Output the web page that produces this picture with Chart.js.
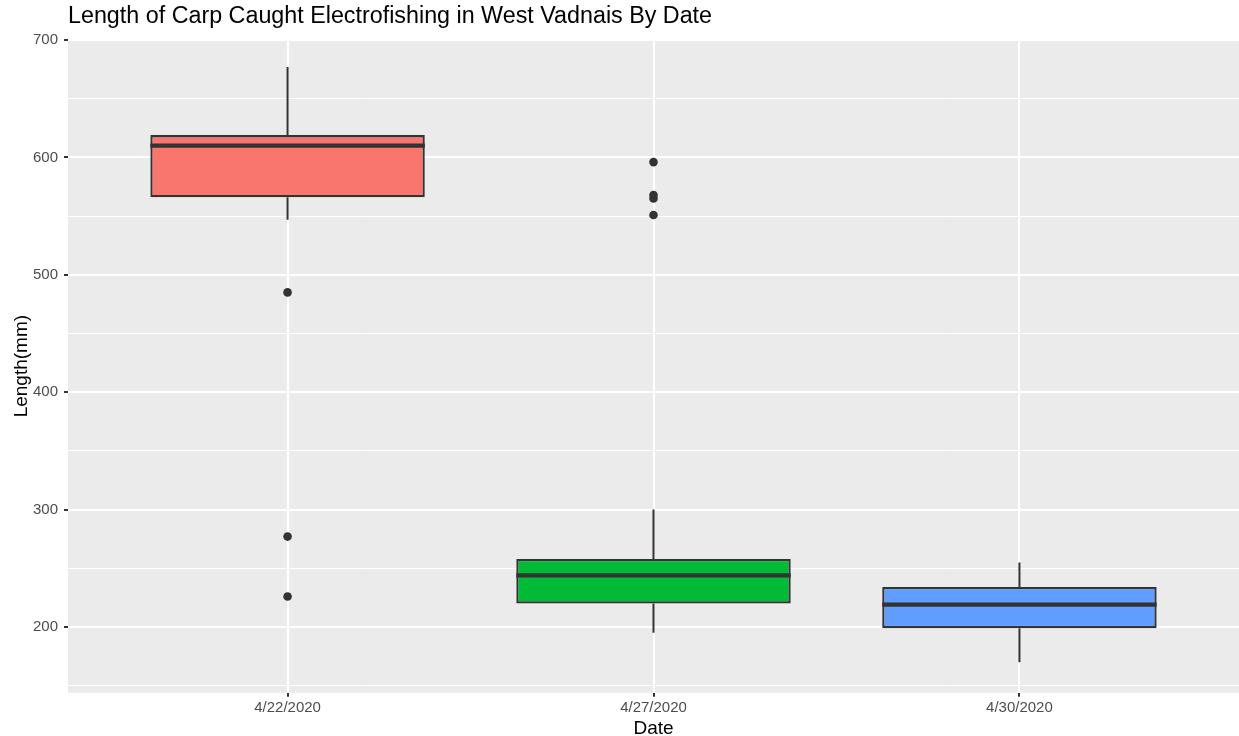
<!DOCTYPE html>
<html>
<head>
<meta charset="utf-8">
<title>Length of Carp Caught Electrofishing in West Vadnais By Date</title>
<script src="https://cdn.jsdelivr.net/npm/chart.js@4/dist/chart.umd.min.js"></script>
<style>
  html, body { margin: 0; padding: 0; background: #ffffff; overflow: hidden; }
  #wrap { width: 1239px; height: 736px; overflow: hidden; }
  #chart { display: block; }
</style>
</head>
<body>
<div id="wrap"><canvas id="chart" width="1239" height="736"></canvas></div>
<script>
// Sampling dates (x categories)
const dates = ['4/22/2020', '4/27/2020', '4/30/2020'];

// Five-number summaries of carp length (mm) per date
const whiskerLow  = [547, 195, 170];
const q1          = [566, 220, 199];
const median      = [610, 244, 219];
const q3          = [619, 258, 234];
const whiskerHigh = [677, 300, 255];

// Points beyond the whiskers
const outliers = [
  [485, 277, 226],
  [596, 568, 565, 551],
  []
];

// Y axis tick values: labelled majors and unlabelled minors
const yMajorTicks = [200, 300, 400, 500, 600, 700];
const yMinorTicks = [150, 250, 350, 450, 550, 650];

const boxFills = ['#F8766D', '#00BA38', '#619CFF'];
const ink = '#333333';
const FONT = '"Liberation Sans", Arial, Helvetica, sans-serif';

const boxData = dates.map((d, i) => ({ x: i + 1, y: [q1[i], q3[i]] }));
const outlierData = [];
outliers.forEach((list, i) => list.forEach(v => outlierData.push({ x: i + 1, y: v })));

// Grey plotting panel behind everything
const panelBackground = {
  id: 'panelBackground',
  beforeDraw(chart) {
    const { ctx, chartArea: a } = chart;
    ctx.save();
    ctx.fillStyle = '#EBEBEB';
    ctx.fillRect(a.left, a.top, a.right - a.left, a.bottom - a.top);
    ctx.restore();
  }
};

// Whiskers (behind the boxes) and median bars (on top of the boxes)
const boxParts = {
  id: 'boxParts',
  beforeDatasetsDraw(chart) {
    const { ctx } = chart;
    const y = chart.scales.y;
    const meta = chart.getDatasetMeta(1);
    ctx.save();
    ctx.strokeStyle = ink;
    ctx.lineWidth = 2;
    meta.data.forEach((bar, i) => {
      ctx.beginPath();
      ctx.moveTo(bar.x, y.getPixelForValue(q3[i]));
      ctx.lineTo(bar.x, y.getPixelForValue(whiskerHigh[i]));
      ctx.moveTo(bar.x, y.getPixelForValue(q1[i]));
      ctx.lineTo(bar.x, y.getPixelForValue(whiskerLow[i]));
      ctx.stroke();
    });
    ctx.restore();
  },
  afterDatasetDraw(chart, args) {
    if (args.index !== 1) return;
    const { ctx } = chart;
    const y = chart.scales.y;
    ctx.save();
    ctx.strokeStyle = ink;
    ctx.lineWidth = 4.3;
    args.meta.data.forEach((bar, i) => {
      const py = y.getPixelForValue(median[i]);
      ctx.beginPath();
      ctx.moveTo(bar.x - bar.width / 2, py);
      ctx.lineTo(bar.x + bar.width / 2, py);
      ctx.stroke();
    });
    ctx.restore();
  }
};

new Chart(document.getElementById('chart'), {
  data: {
    datasets: [
      {
        type: 'scatter',
        label: 'Outliers',
        data: outlierData,
        pointRadius: 4.3,
        pointBackgroundColor: ink,
        pointBorderWidth: 0,
        order: 0
      },
      {
        type: 'bar',
        label: 'Length(mm)',
        data: boxData,
        backgroundColor: boxFills,
        borderColor: ink,
        borderWidth: 2.3,
        borderSkipped: false,
        barPercentage: 0.75,
        categoryPercentage: 1,
        order: 1
      }
    ]
  },
  options: {
    responsive: false,
    animation: false,
    events: [],
    layout: { padding: 0, autoPadding: false },
    plugins: {
      legend: { display: false },
      tooltip: { enabled: false },
      title: {
        display: true,
        text: 'Length of Carp Caught Electrofishing in West Vadnais By Date',
        align: 'start',
        fullSize: false,
        color: '#000000',
        font: { family: FONT, size: 23.3, weight: 'normal', lineHeight: 1.2 },
        padding: { top: 2.5, bottom: 9.1 }
      }
    },
    scales: {
      x: {
        type: 'linear',
        min: 0.4,
        max: 3.6,
        offset: false,
        afterBuildTicks(scale) {
          scale.ticks = dates.map((d, i) => ({ value: i + 1 }));
        },
        afterFit(scale) {
          scale.height = 43.3;
          scale.paddingLeft = 0;
          scale.paddingRight = 0;
        },
        ticks: {
          autoSkip: false,
          maxRotation: 0,
          padding: 2,
          color: '#4D4D4D',
          font: { family: FONT, size: 15 },
          callback: v => dates[Math.round(v) - 1] || ''
        },
        grid: {
          offset: false,
          color: '#FFFFFF',
          lineWidth: 2,
          tickColor: ink,
          tickWidth: 2,
          tickLength: 4
        },
        border: { display: false },
        title: {
          display: true,
          text: 'Date',
          color: '#000000',
          font: { family: FONT, size: 19, lineHeight: 1 },
          padding: { top: 0, bottom: -2 }
        }
      },
      y: {
        type: 'linear',
        min: 144,
        max: 700.4,
        afterBuildTicks(scale) {
          scale.ticks = yMajorTicks.concat(yMinorTicks)
            .sort((a, b) => a - b)
            .map(v => ({ value: v }));
        },
        afterFit(scale) { scale.width = 68; },
        ticks: {
          padding: 6,
          color: '#4D4D4D',
          font: { family: FONT, size: 15 },
          callback: v => (yMajorTicks.includes(v) ? String(v) : '')
        },
        grid: {
          color: '#FFFFFF',
          lineWidth: c => (c.tick && yMajorTicks.includes(c.tick.value) ? 2 : 1),
          tickColor: c => (c.tick && yMajorTicks.includes(c.tick.value) ? ink : 'rgba(0,0,0,0)'),
          tickWidth: 2,
          tickLength: 4
        },
        border: { display: false },
        title: {
          display: true,
          text: 'Length(mm)',
          color: '#000000',
          font: { family: FONT, size: 19, lineHeight: 1 },
          padding: { top: 12, bottom: 0 }
        }
      }
    }
  },
  plugins: [panelBackground, boxParts]
});
</script>
</body>
</html>
